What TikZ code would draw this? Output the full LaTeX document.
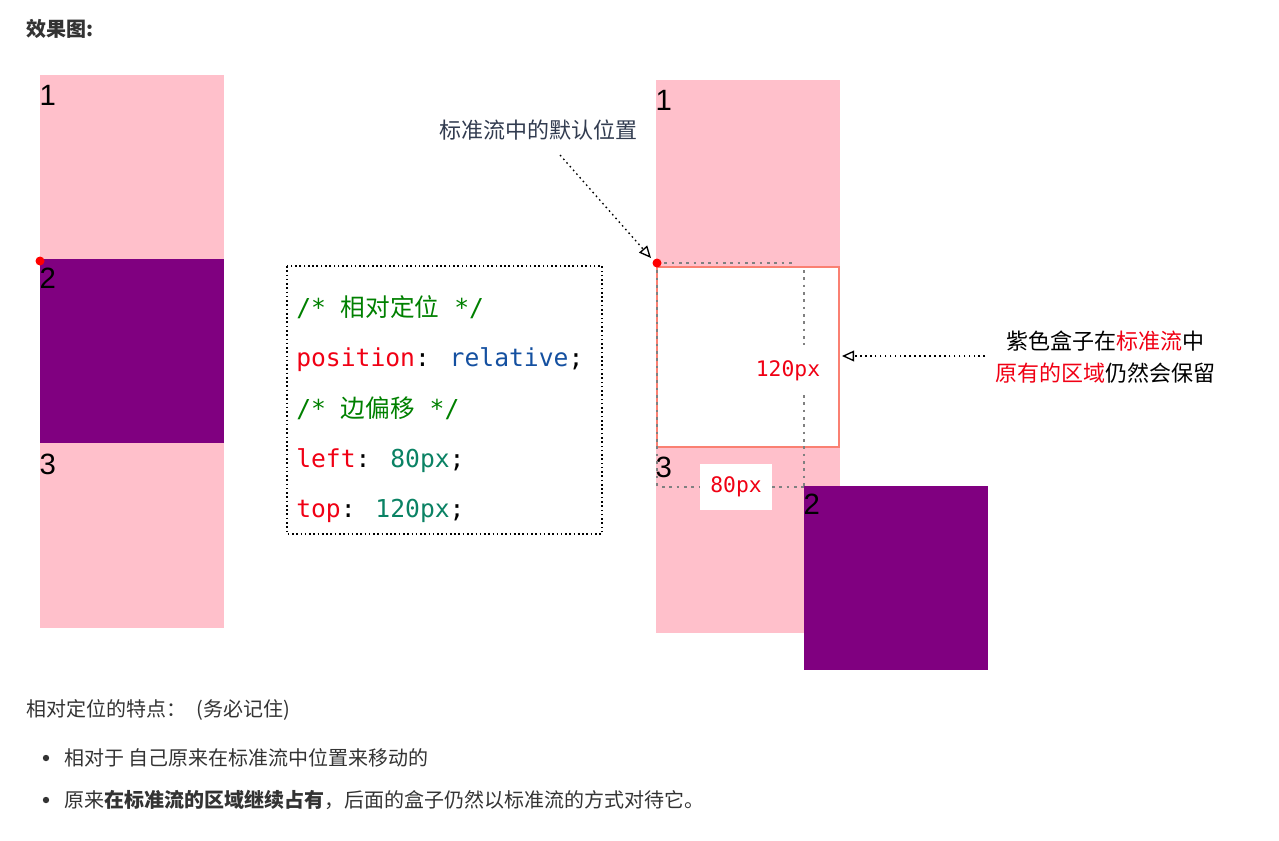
\documentclass[tikz,border=0pt]{standalone}
\usepackage{fontspec}
\setmainfont{Noto Sans CJK SC}
\newfontfamily\cjk{Noto Sans CJK SC}
\newfontfamily\codefont{DejaVu Sans Mono}
\newfontfamily\numfont{Liberation Sans}
\usetikzlibrary{arrows.meta}
\definecolor{boxpink}{RGB}{255,192,203}
\definecolor{boxpurple}{RGB}{128,0,128}
\definecolor{cgreen}{RGB}{0,128,0}
\definecolor{cred}{RGB}{240,0,20}
\definecolor{cblue}{RGB}{20,80,160}
\definecolor{cnum}{RGB}{10,130,100}
\definecolor{salmon}{RGB}{250,128,114}
\definecolor{notecol}{RGB}{50,60,80}
\tikzset{
  pinkbox/.style={fill=boxpink},
  purplebox/.style={fill=boxpurple},
  numlabel/.style={anchor=north west, inner sep=1pt, font=\numfont\fontsize{22}{22}\selectfont},
  codeline/.style={anchor=west, inner sep=0pt, font=\codefont\fontsize{18.5}{18.5}\selectfont},
  guide/.style={gray, dash pattern=on 2pt off 3.5pt, line width=1.3pt},
  note arrow/.style={dash pattern=on 1.2pt off 2.5pt, line width=1pt, -{Triangle[open, length=9pt, width=8pt]}},
  notetext/.style={font=\cjk\fontsize{16.5}{16.5}\selectfont},
  bodytext/.style={anchor=west, inner sep=0pt, font=\cjk\fontsize{15}{15}\selectfont, text=black!80}
}
\begin{document}
\begin{tikzpicture}[x=0.75pt, y=-0.75pt]
  \useasboundingbox (0,0) rectangle (1279,840);
  % heading
  \node[bodytext, font=\cjk\bfseries\fontsize{15}{15}\selectfont] (title) at (26,29) {效果图:};
  % left column: normal flow
  \fill[pinkbox] (40,75) rectangle (224,628);
  \fill[purplebox] (40,259) rectangle (224,443);
  \node[numlabel] (l1) at (38,84) {1};
  \node[numlabel] (l2) at (38,266) {2};
  \node[numlabel] (l3) at (38,452) {3};
  \fill[red] (40,261) circle (4.5);
  % code box
  \draw[dotted, line width=1.2pt] (287,266) rectangle (602,534);
  \node[codeline, text=cgreen] (c1) at (296,307) {/* {\cjk 相对定位} */};
  \node[codeline] (c2) at (296,360) {\textcolor{cred}{position}: \textcolor{cblue}{relative};};
  \node[codeline, text=cgreen] (c3) at (296,408) {/* {\cjk 边偏移} */};
  \node[codeline] (c4) at (296,461) {\textcolor{cred}{left}: \textcolor{cnum}{80px};};
  \node[codeline] (c5) at (296,511) {\textcolor{cred}{top}: \textcolor{cnum}{120px};};
  % right column: relative positioning
  \fill[pinkbox] (656,80) rectangle (840,633);
  \draw[salmon, line width=1.6pt, fill=white] (657,267) rectangle (839,447);
  \fill[purplebox] (804,486) rectangle (988,670);
  \node[numlabel] (r1) at (654,89) {1};
  \node[numlabel] (r3) at (654,455) {3};
  \node[numlabel] (r2) at (802,492) {2};
  \draw[guide] (657,263) -- (793,263);
  \draw[guide] (657,263) -- (657,488);
  \draw[guide] (804,270) -- (804,345);
  \draw[guide] (804,395) -- (804,487);
  \draw[guide] (662,487) -- (804,487);
  \node[fill=white, inner sep=0pt, minimum height=34pt,
        text width=54pt, align=center, font=\codefont\fontsize{16}{16}\selectfont, text=cred]
        (px80) at (736,487) {80px};
  \node[font=\codefont\fontsize{16}{16}\selectfont, text=cred] (px120) at (788,371) {120px};
  \fill[red] (657,263) coordinate (origin) circle (4.5);
  % notes
  \node[notetext, text=notecol] (n1) at (538,130) {标准流中的默认位置};
  \coordinate (n1end) at (560,155);
  \draw[note arrow] (n1end) -- (651,258);
  \node[notetext, align=center] (n2) at (1105,357)
    {紫色盒子在\textcolor{cred}{标准流}中\\[7pt]\textcolor{cred}{原有的区域}仍然会保留};
  \coordinate (n2end) at (985,356);
  \coordinate (boxedge) at (842,356);
  \draw[note arrow] (n2end) -- (boxedge);
  % bottom text
  \node[bodytext] (t1) at (26,710) {相对定位的特点：\enspace(务必记住)};
  \fill[black!80] (46,758) circle (3.2);
  \node[bodytext] (t2) at (64,758) {相对于 自己原来在标准流中位置来移动的};
  \fill[black!80] (46,800) circle (3.2);
  \node[bodytext] (t3) at (64,800) {原来\textbf{在标准流的区域继续占有}，后面的盒子仍然以标准流的方式对待它。};
\end{tikzpicture}
\end{document}
